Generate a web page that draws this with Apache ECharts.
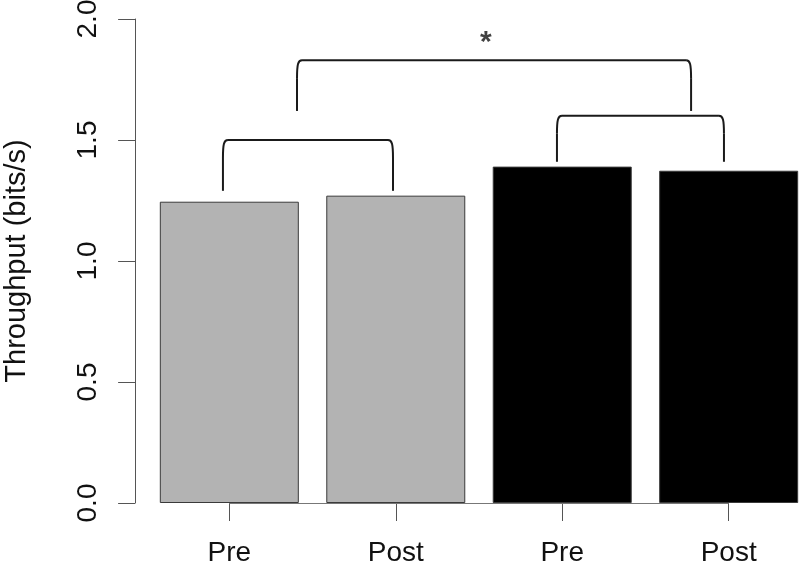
<!DOCTYPE html>
<html>
<head>
<meta charset="utf-8">
<script src="https://cdn.jsdelivr.net/npm/echarts@6/dist/echarts.min.js"></script>
<style>html,body{margin:0;padding:0;background:#fff}#c{width:800px;height:572px}</style>
</head>
<body>
<div id="c"></div>
<script>
// ---- data ----
const categories = ['Pre', 'Post', 'Pre', 'Post'];
const throughput = [1.245, 1.27, 1.39, 1.373];
const barColors = ['#b3b3b3', '#b3b3b3', '#000000', '#000000'];
const yTicks = [0.0, 0.5, 1.0, 1.5, 2.0];
// brackets in bar-position units: [xLeft, xRight, yTop, yLegLeft, yLegRight]
const brackets = [
  [0.654, 1.880, 1.50, 1.29, 1.29],
  [3.062, 4.266, 1.60, 1.41, 1.41],
  [1.188, 4.029, 1.83, 1.62, 1.62]
];
const significance = [[2.55, 1.90, '*']];

const chart = echarts.init(document.getElementById('c'), null, {renderer: 'canvas'});
const FONT = 'Liberation Sans, Arial, Helvetica, sans-serif';

function renderBracket(params, api) {
  const xl = api.value(0), xr = api.value(1), yt = api.value(2), yl1 = api.value(3), yl2 = api.value(4);
  const pL = api.coord([xl, yl1]);
  const pR = api.coord([xr, yl2]);
  const tL = api.coord([xl, yt]);
  const tR = api.coord([xr, yt]);
  const rv = 18, rh = 5;
  const style = {stroke: '#1a1a1a', lineWidth: 2, fill: null};
  return {
    type: 'group',
    children: [
      {type: 'line', shape: {x1: pL[0], y1: pL[1], x2: tL[0], y2: tL[1] + rv}, style},
      {type: 'bezierCurve', shape: {x1: tL[0], y1: tL[1] + rv, cpx1: tL[0], cpy1: tL[1] + 4, cpx2: tL[0] + 1, cpy2: tL[1], x2: tL[0] + rh, y2: tL[1]}, style},
      {type: 'line', shape: {x1: tL[0] + rh, y1: tL[1], x2: tR[0] - rh, y2: tR[1]}, style},
      {type: 'bezierCurve', shape: {x1: tR[0] - rh, y1: tR[1], cpx1: tR[0] - 1, cpy1: tR[1], cpx2: tR[0], cpy2: tR[1] + 4, x2: tR[0], y2: tR[1] + rv}, style},
      {type: 'line', shape: {x1: tR[0], y1: tR[1] + rv, x2: pR[0], y2: pR[1]}, style}
    ]
  };
}

const option = {
  animation: false,
  backgroundColor: '#ffffff',
  grid: {left: 146.1, right: -11.9, top: 19, bottom: 69, containLabel: false, outerBoundsMode: 'none'},
  xAxis: [
    {
      type: 'category',
      data: categories,
      axisLine: {show: false},
      axisTick: {show: true, alignWithLabel: true, length: 18, lineStyle: {color: '#555', width: 1}},
      axisLabel: {fontSize: 28, color: '#111', fontFamily: FONT, margin: 36},
      splitLine: {show: false}
    },
    {
      type: 'value', min: 0.1, max: 4.9, show: false
    }
  ],
  yAxis: {
    type: 'value',
    min: 0, max: 2, interval: 0.5,
    offset: 11,
    name: 'Throughput (bits/s)',
    nameLocation: 'middle',
    nameRotate: 90,
    nameGap: 104,
    nameTextStyle: {fontSize: 29, color: '#111', fontFamily: FONT},
    axisLine: {show: true, lineStyle: {color: '#555', width: 1}},
    axisTick: {show: true, length: 17, lineStyle: {color: '#555', width: 1}},
    axisLabel: {
      rotate: 90, fontSize: 28, color: '#111', fontFamily: FONT, margin: 33,
      formatter: v => yTicks.includes(v) ? v.toFixed(1) : ''
    },
    splitLine: {show: false}
  },
  series: [
    {
      type: 'bar',
      xAxisIndex: 0,
      barWidth: 139,
      data: throughput.map((v, i) => ({value: v, itemStyle: {color: barColors[i]}})),
      itemStyle: {borderColor: '#3a3a3a', borderWidth: 1},
      markLine: {
        silent: true, symbol: 'none', label: {show: false},
        lineStyle: {color: '#777', width: 1, type: 'solid'},
        data: [[{coord: [0, 0]}, {coord: [3, 0]}]]
      },
      z: 2
    },
    {
      type: 'custom',
      xAxisIndex: 1,
      yAxisIndex: 0,
      data: brackets,
      encode: {x: [0, 1], y: [2, 3, 4]},
      renderItem: renderBracket,
      z: 3
    },
    {
      type: 'scatter',
      xAxisIndex: 1,
      symbolSize: 0,
      data: significance.map(d => [d[0], d[1]]),
      label: {
        show: true, position: 'inside', formatter: p => significance[p.dataIndex][2],
        fontSize: 30, fontWeight: 'bold', color: '#111', fontFamily: FONT
      },
      z: 4
    }
  ]
};
chart.setOption(option);
</script>
</body>
</html>
